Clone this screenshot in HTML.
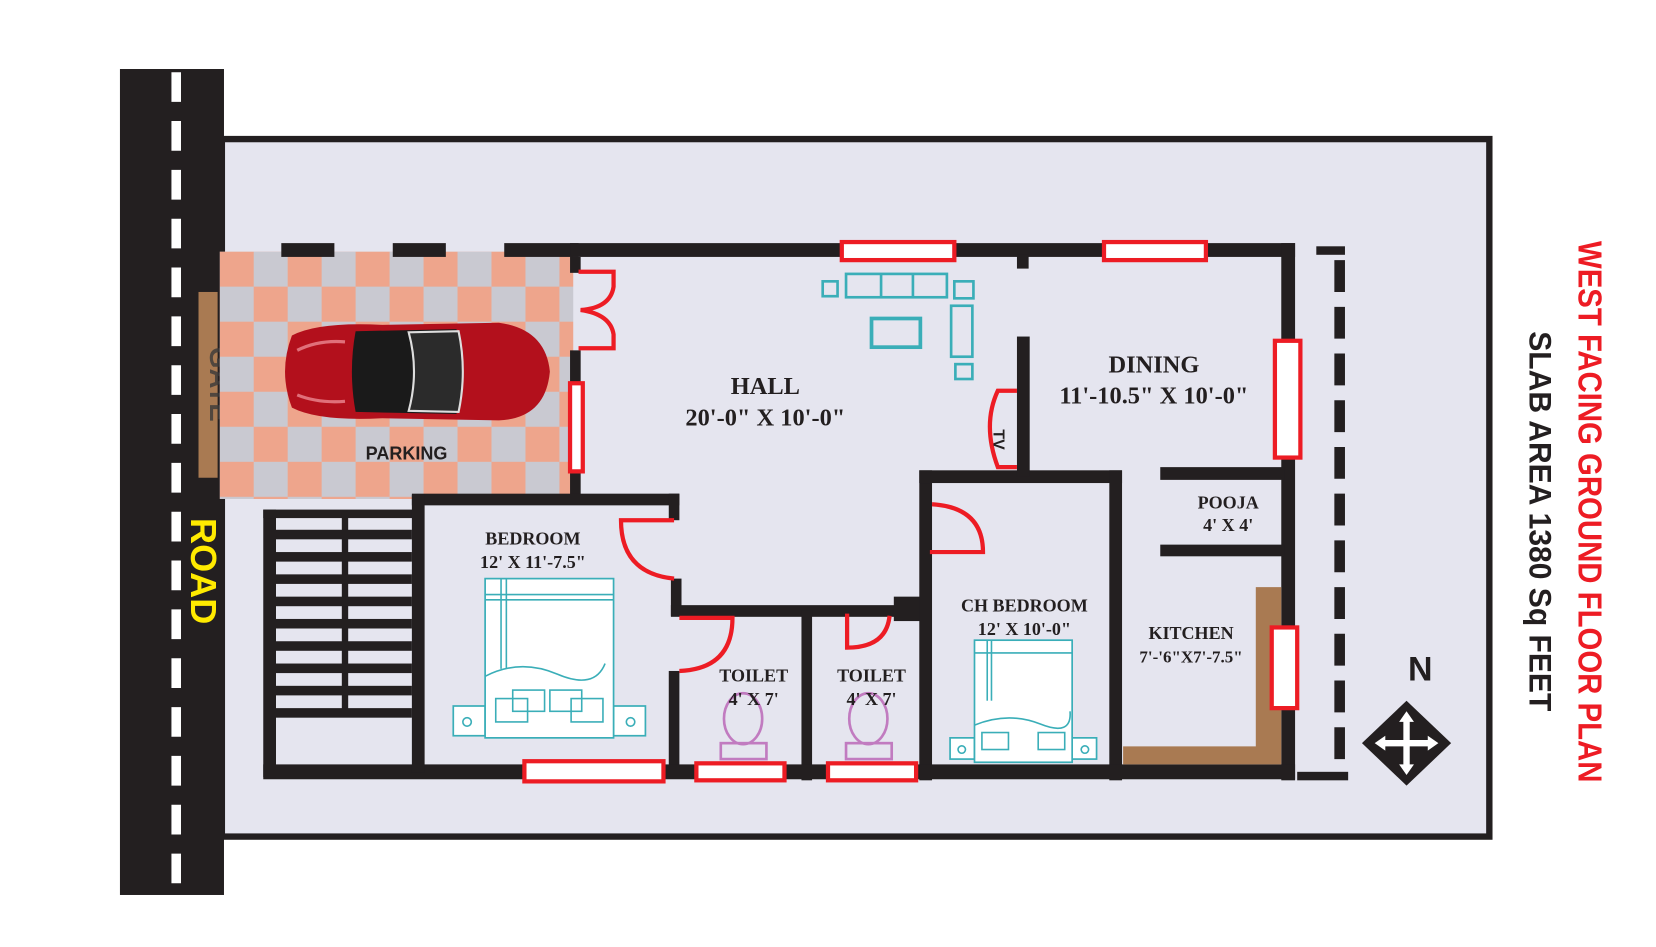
<!DOCTYPE html>
<html><head><meta charset="utf-8"><style>
html,body{margin:0;padding:0;background:#fff;}
svg{display:block;}
.t{font-family:"Liberation Serif",serif;font-weight:bold;fill:#231f20;text-anchor:middle;}
.s{font-family:"Liberation Sans",sans-serif;font-weight:bold;}
</style></head><body>
<svg width="1656" height="947" viewBox="0 0 1560 892" preserveAspectRatio="none" xmlns="http://www.w3.org/2000/svg">
<defs>
<pattern id="chk" x="207" y="237" width="64" height="66" patternUnits="userSpaceOnUse">
<rect width="64" height="66" fill="#c9c9d1"/>
<rect x="0" y="0" width="32" height="33" fill="#eea58c"/>
<rect x="32" y="33" width="32" height="33" fill="#eea58c"/>
</pattern>
</defs>
<rect width="1560" height="892" fill="#fff"/>
<rect x="209" y="131" width="1194" height="657" fill="#e5e5ef" stroke="#231f20" stroke-width="6"/>
<rect x="113" y="65" width="98" height="778" fill="#231f20"/>
<line x1="166" y1="68" x2="166" y2="843" stroke="#fff" stroke-width="9" stroke-dasharray="28,18"/>
<rect x="187" y="275" width="18" height="175" fill="#a97a52"/>
<text class="s" transform="translate(198,362) rotate(90)" font-size="26" fill="#3a3a3a" text-anchor="middle" opacity="0.8">GATE</text>
<text class="s" transform="translate(180,538) rotate(90)" font-size="34" fill="#ffea00" text-anchor="middle">ROAD</text>
<rect x="207" y="237" width="333" height="233" fill="url(#chk)"/>
<rect x="265" y="229" width="50" height="13" fill="#231f20"/>
<rect x="370" y="229" width="50" height="13" fill="#231f20"/>
<rect x="475" y="229" width="70" height="13" fill="#231f20"/>
<g>
<path d="M275 316 Q300 303 360 306 L470 304 Q514 310 518 350 Q514 394 470 396 L360 394 Q300 397 275 384 Q262 350 275 316Z" fill="#b3101c"/>
<path d="M335 312 L430 310 Q440 350 430 390 L335 388 Q328 350 335 312Z" fill="#1a1a1a"/>
<path d="M385 313 L432 312 Q440 350 432 388 L385 387 Q395 350 385 313Z" fill="#2b2b2b" stroke="#ddd" stroke-width="2"/>
<path d="M280 330 Q300 320 325 322" stroke="#e0707a" stroke-width="3" fill="none"/>
<path d="M280 372 Q300 380 325 378" stroke="#e0707a" stroke-width="3" fill="none"/>
</g>
<text class="s" x="383" y="433" font-size="17" fill="#231f20" text-anchor="middle">PARKING</text>
<g fill="#231f20">
<rect x="537" y="229" width="683" height="13"/>
<rect x="958" y="240" width="11" height="13"/>
<rect x="1207" y="229" width="13" height="506"/>
<rect x="1240" y="232" width="27" height="8"/>
<rect x="537" y="242" width="10" height="15"/>
<rect x="537" y="330" width="10" height="140"/>
<rect x="388" y="465" width="252" height="11"/>
<rect x="630" y="465" width="10" height="25"/>
<rect x="632" y="545" width="10" height="35"/>
<rect x="632" y="570" width="213" height="11"/>
<rect x="630" y="632" width="10" height="100"/>
<rect x="755" y="575" width="10" height="160"/>
<rect x="842" y="562" width="26" height="23"/>
<rect x="866" y="443" width="12" height="292"/>
<rect x="866" y="443" width="191" height="12"/>
<rect x="1045" y="443" width="12" height="292"/>
<rect x="958" y="317" width="12" height="132"/>
<rect x="1093" y="440" width="117" height="12"/>
<rect x="1093" y="513" width="117" height="11"/>
<rect x="248" y="720" width="972" height="14"/>
<rect x="248" y="480" width="12" height="252"/>
<rect x="248" y="480" width="150" height="8"/>
<rect x="388" y="466" width="12" height="262"/>
<rect x="322" y="482" width="6" height="188"/>
<rect x="1222" y="727" width="48" height="8"/>
</g>
<line x1="1262" y1="245" x2="1262" y2="722" stroke="#231f20" stroke-width="10" stroke-dasharray="30,14"/>
<g fill="#231f20">
<rect x="260" y="499" width="128" height="9"/><rect x="260" y="520" width="128" height="9"/>
<rect x="260" y="541" width="128" height="9"/><rect x="260" y="562" width="128" height="9"/>
<rect x="260" y="583" width="128" height="9"/><rect x="260" y="604" width="128" height="9"/>
<rect x="260" y="625" width="128" height="9"/><rect x="260" y="646" width="128" height="9"/>
<rect x="260" y="667" width="128" height="9"/>
</g>
<path d="M1183 553 H1207 V720 H1058 V703 H1183Z" fill="#a97a52"/>
<g fill="#fff" stroke="#ed1c24" stroke-width="4">
<rect x="793" y="228" width="106" height="17"/>
<rect x="1040" y="228" width="96" height="17"/>
<rect x="1201" y="321" width="24" height="110"/>
<rect x="1198" y="591" width="24" height="76"/>
<rect x="537" y="361" width="12" height="83"/>
<rect x="494" y="717" width="131" height="19"/>
<rect x="656" y="719" width="83" height="16"/>
<rect x="780" y="719" width="83" height="16"/>
</g>
<g fill="none" stroke="#ed1c24" stroke-width="4">
<path d="M545 256 H578 V270 Q575 290 547 292 Q575 296 578 315 V328 H545"/>
<path d="M635 490 H585 Q585 540 635 545"/>
<path d="M640 582 H690 Q690 630 640 632"/>
<path d="M798 578 V610 Q835 610 838 580"/>
<path d="M878 475 Q926 478 926 520 H876"/>
<path d="M958 368 H940 Q925 400 940 440 H958"/>
</g>
<text class="s" transform="translate(936,414) rotate(90)" font-size="15" fill="#231f20" text-anchor="middle">TV</text>
<g fill="none" stroke="#3aaeb8" stroke-width="2.5">
<rect x="775" y="265" width="14" height="14"/>
<rect x="797" y="258" width="95" height="22"/>
<line x1="830" y1="258" x2="830" y2="280"/><line x1="860" y1="258" x2="860" y2="280"/>
<rect x="899" y="265" width="18" height="16"/>
<rect x="896" y="288" width="20" height="48"/>
<rect x="900" y="343" width="16" height="14"/>
<rect x="821" y="300" width="46" height="27" stroke-width="3.5"/>
</g>
<g fill="#fff" stroke="#3aaeb8" stroke-width="1.6">
<rect x="427" y="665" width="30" height="28"/><rect x="578" y="665" width="30" height="28"/>
<rect x="457" y="545" width="121" height="150"/>
<rect x="895" y="695" width="23" height="20"/><rect x="1010" y="695" width="23" height="20"/>
<rect x="918" y="603" width="92" height="115"/>
</g>
<g fill="none" stroke="#3aaeb8" stroke-width="1.5">
<line x1="457" y1="560" x2="578" y2="560"/><line x1="457" y1="565" x2="578" y2="565"/>
<line x1="472" y1="545" x2="472" y2="630"/><line x1="477" y1="545" x2="477" y2="630"/>
<path d="M457 637 Q490 620 525 635 T570 625"/>
<rect x="467" y="658" width="30" height="22"/><rect x="538" y="658" width="30" height="22"/>
<rect x="483" y="650" width="30" height="20"/><rect x="518" y="650" width="30" height="20"/>
<circle cx="440" cy="680" r="4"/><circle cx="594" cy="680" r="4"/>
<line x1="918" y1="615" x2="1010" y2="615"/><line x1="930" y1="603" x2="930" y2="660"/><line x1="934" y1="603" x2="934" y2="660"/>
<path d="M918 683 Q950 670 980 682 T1008 670"/>
<rect x="925" y="690" width="25" height="16"/><rect x="978" y="690" width="25" height="16"/>
<circle cx="906" cy="706" r="3.5"/><circle cx="1022" cy="706" r="3.5"/>
</g>
<g fill="none" stroke="#c17bc0" stroke-width="2.5">
<ellipse cx="700" cy="677" rx="18" ry="24"/><rect x="679" y="700" width="43" height="15"/>
<ellipse cx="818" cy="677" rx="18" ry="24"/><rect x="797" y="700" width="43" height="15"/>
</g>
<text class="t" x="721" y="371" font-size="23">HALL</text>
<text class="t" x="721" y="401" font-size="23">20'-0" X 10'-0"</text>
<text class="t" x="1087" y="351" font-size="23">DINING</text>
<text class="t" x="1087" y="380" font-size="23">11'-10.5" X 10'-0"</text>
<text class="t" x="1157" y="479" font-size="17">POOJA</text>
<text class="t" x="1157" y="500" font-size="17">4' X 4'</text>
<text class="t" x="502" y="513" font-size="17">BEDROOM</text>
<text class="t" x="502" y="535" font-size="17">12' X 11'-7.5"</text>
<text class="t" x="710" y="642" font-size="17">TOILET</text>
<text class="t" x="710" y="664" font-size="17">4' X 7'</text>
<text class="t" x="821" y="642" font-size="17">TOILET</text>
<text class="t" x="821" y="664" font-size="17">4' X 7'</text>
<text class="t" x="965" y="576" font-size="17">CH BEDROOM</text>
<text class="t" x="965" y="598" font-size="17">12' X 10'-0"</text>
<text class="t" x="1122" y="602" font-size="17">KITCHEN</text>
<text class="t" x="1122" y="624" font-size="16">7'-'6"X7'-7.5"</text>
<text class="s" x="1338" y="641" font-size="32" fill="#231f20" text-anchor="middle">N</text>
<g transform="translate(1325,700)">
<path d="M0 -40 L42 0 L0 40 L-42 0Z" fill="#231f20"/>
<path d="M0 -30 L7 -20 H3 V-3 H20 V-7 L30 0 L20 7 V3 H3 V20 H7 L0 30 L-7 20 H-3 V3 H-20 V7 L-30 0 L-20 -7 V-3 H-3 V-20 H-7Z" fill="#fff"/>
</g>
<text class="s" transform="translate(1487,482) rotate(90)" font-size="31" fill="#ed1c24" text-anchor="middle" textLength="510" lengthAdjust="spacingAndGlyphs">WEST FACING GROUND FLOOR PLAN</text>
<text class="s" transform="translate(1441,491) rotate(90)" font-size="30" fill="#231f20" text-anchor="middle" textLength="358" lengthAdjust="spacingAndGlyphs">SLAB AREA 1380 Sq FEET</text>
</svg>
</body></html>
